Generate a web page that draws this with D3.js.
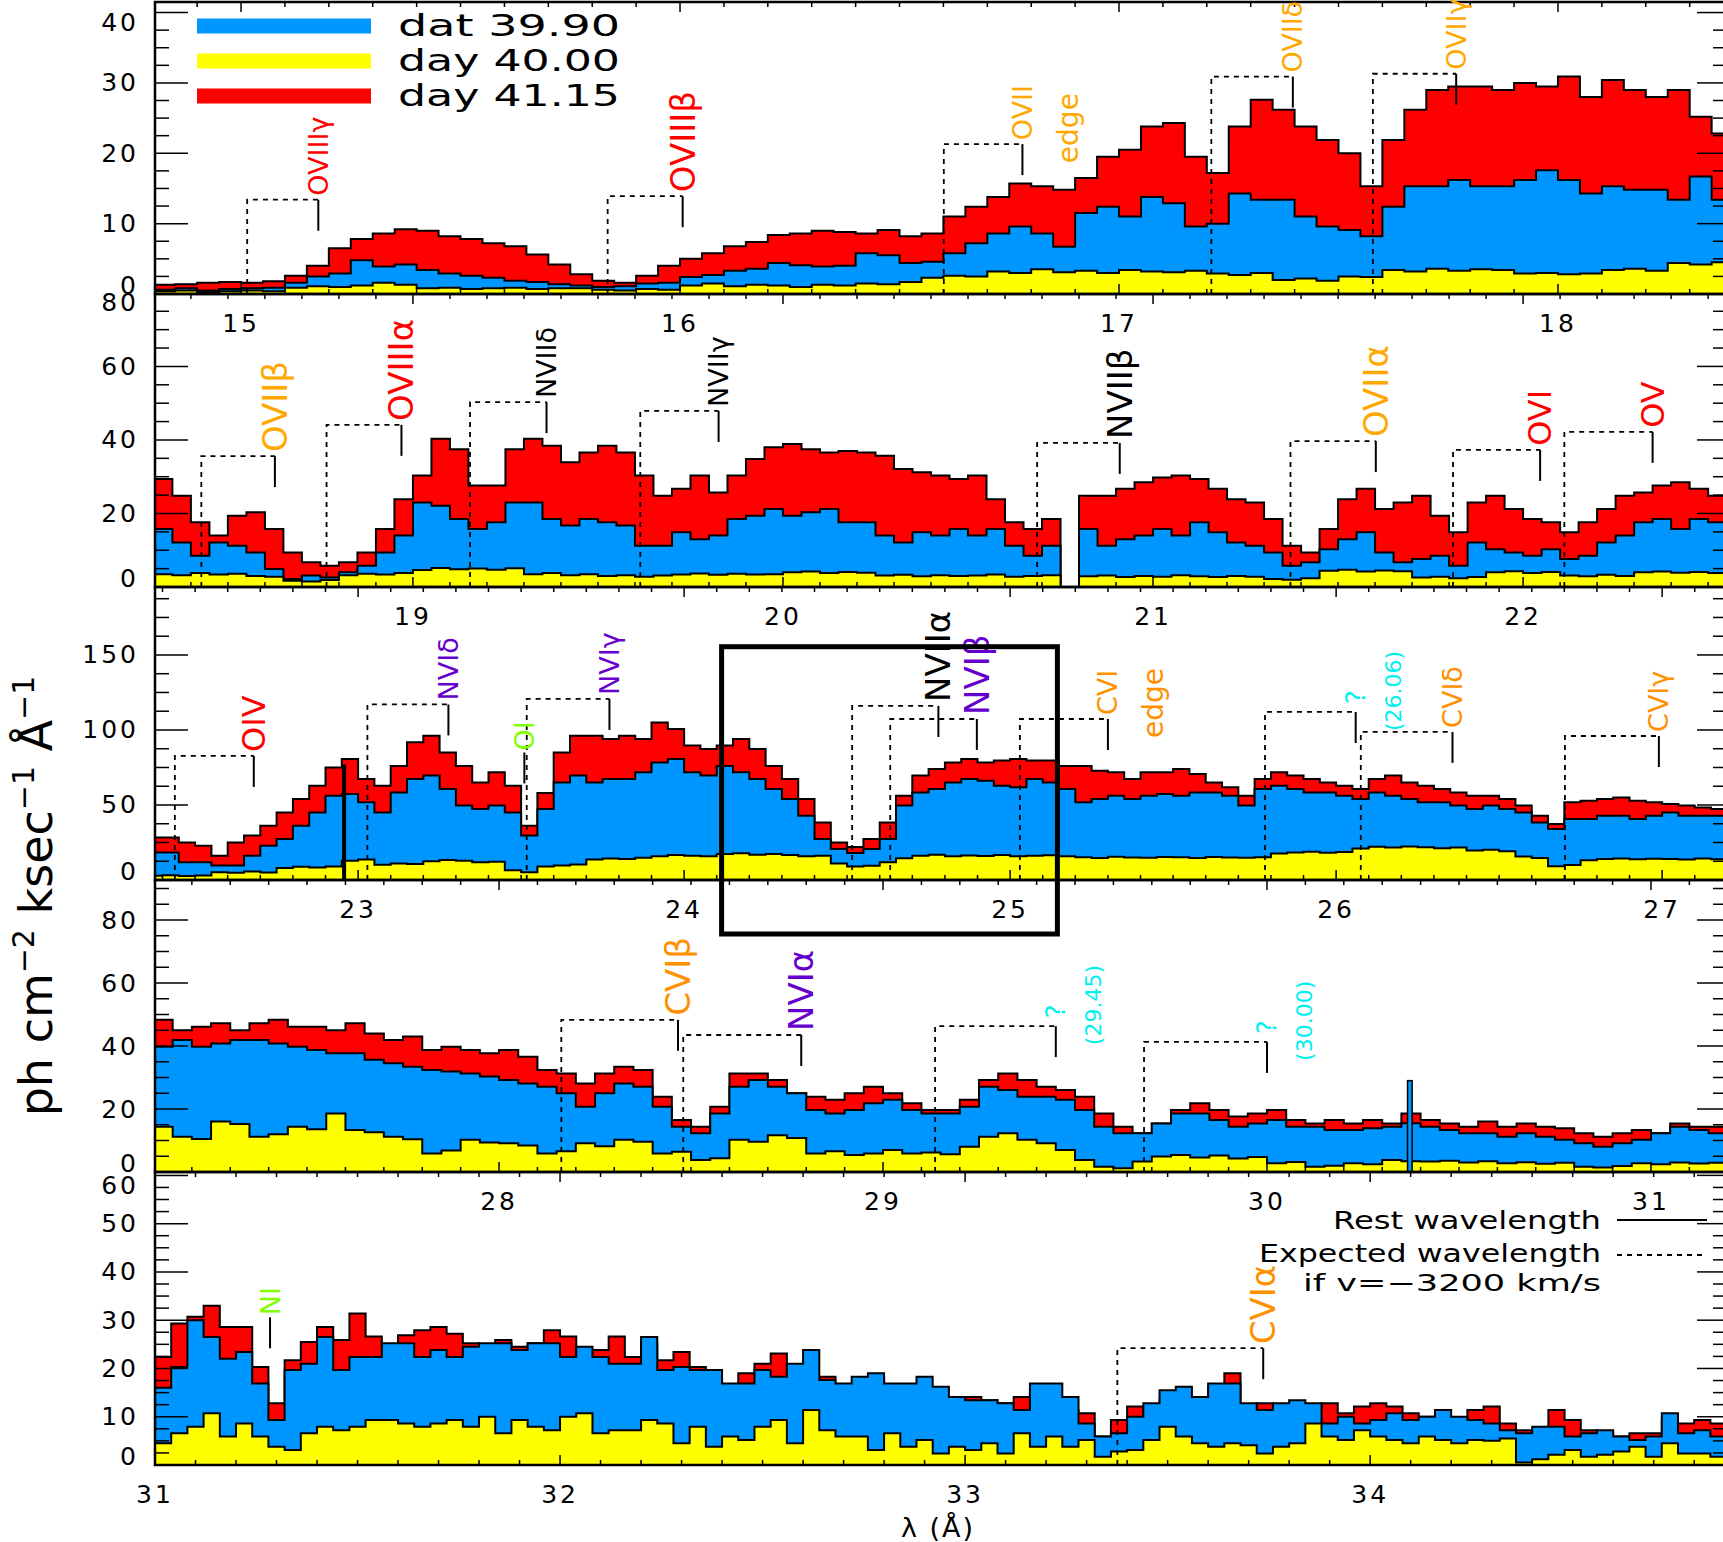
<!DOCTYPE html>
<html>
<head>
<meta charset="utf-8">
<script src="https://cdn.jsdelivr.net/npm/d3@7"></script>
<style>
  body { margin: 0; background: #fff; }
  svg { display: block; }
  text { font-family: "DejaVu Sans", sans-serif; }
</style>
</head>
<body>
<div id="chart"></div>
<script>
// ---- panel ranges (wavelength in A, flux in ph cm-2 ksec-1 A-1) ----
var panelXDomain = [[14.804, 18.385], [18.303, 22.551], [22.377, 27.199], [27.104, 31.198], [31.0, 34.881]];
var panelYMax = [41.5, 79.7, 195.3, 92.7, 60.7];
var binStart = [14.80, 18.30, 22.35, 27.10, 31.00];
var binStep = [0.05, 0.05, 0.05, 0.05, 0.04];
var xTickLabels = [[15, 16, 17, 18], [19, 20, 21, 22], [23, 24, 25, 26, 27], [28, 29, 30, 31], [31, 32, 33, 34]];
var yTickLabels = [[0, 10, 20, 30, 40], [0, 20, 40, 60, 80], [0, 50, 100, 150], [0, 20, 40, 60, 80], [0, 10, 20, 30, 40, 50, 60]];
var yMinorStep = [2.5, 5, 12.5, 5, 2.5];

var seriesNames = ["dat 39.90", "day 40.00", "day 41.15"];

// day 41.15 (red)
var red1 = [1.3,1.4,1.6,1.7,1.6,1.8,2.6,4.0,6.5,7.8, 8.6,9.2,9.0,8.2,7.8,7.2,6.8,5.6,4.2,2.8,
  1.9,1.6,2.6,4.0,5.0,5.8,6.8,7.4,8.4,8.6, 9.0,8.8,8.6,9.1,8.2,8.6,11.0,12.4,13.8,15.7,
  15.3,14.8,16.5,19.5,20.5,23.8,24.3,19.5,17.2,23.8, 27.6,26.2,23.8,21.9,20.0,15.3,21.9,26.2,29.0,29.5,
  29.5,29.0,30.0,29.5,30.9,28.0,30.4,29.0,28.0,29.0, 25.2,22.8];
var red2 = [29.4,24.8,17.6,14.0,19.4,20.3,15.8,9.4,6.7,5.8, 6.7,9.4,15.8,23.9,30.3,40.3,37.5,27.6,27.6,37.5,
  40.3,38.4,33.9,36.6,38.4,36.6,30.3,24.8,26.7,30.3, 25.7,30.3,34.8,38.0,38.9,37.5,36.6,37.0,36.6,35.7,
  32.1,31.2,30.3,29.4,30.3,23.9,17.6,15.8,18.5,null, 24.8,24.8,26.7,28.5,29.8,30.3,29.4,26.7,23.9,23.0,
  18.5,11.2,9.4,15.8,23.9,26.7,21.2,23.0,24.8,19.4, 14.9,23.0,24.8,21.2,18.5,17.6,14.9,17.6,21.2,24.8,
  25.7,27.6,28.5,26.7,24.8];
var red3 = [28.4,28.4,25.0,22.9,16.2,25.0,29.6,36.2,45.0,54.0, 62.9,75.0,80.7,67.3,62.9,76.0,91.8,96.2,85.0,76.0,
  65.0,71.8,62.9,36.2,58.0,85.0,96.2,96.2,94.0,96.2, 94.0,105.0,100.7,89.6,87.3,89.6,94.0,87.3,76.0,67.3,
  54.0,38.4,25.0,22.0,27.3,38.4,56.2,69.6,74.0,78.4, 80.7,78.4,79.6,80.7,79.6,79.6,76.0,76.0,72.9,71.8,
  67.3,71.8,71.8,74.0,70.7,65.0,61.8,56.2,67.3,71.8, 69.6,67.3,65.0,62.9,60.7,67.3,69.6,65.0,62.9,60.7,
  58.4,56.2,56.2,54.0,49.6,42.9,37.3,51.8,52.9,54.0, 55.0,52.9,51.8,50.7,49.6,48.4,47.3];
var red4 = [48.3,45.0,46.1,47.2,45.0,47.2,48.3,46.1,46.1,45.0, 47.2,44.0,41.9,43.0,38.7,39.8,38.7,37.7,38.7,36.6,
  32.4,31.3,28.1,31.3,33.4,32.4,23.9,16.5,14.4,20.7, 31.3,31.3,29.2,25.0,23.9,22.9,25.0,27.1,25.0,21.8,
  19.7,19.7,22.9,29.2,31.3,29.2,27.1,26.0,23.9,18.6, 14.4,12.3,15.4,19.7,21.8,19.7,17.6,18.6,19.7,16.5,
  15.4,16.5,15.4,16.5,15.4,18.6,16.5,15.4,14.4,16.0, 14.4,15.4,14.4,13.9,12.3,11.2,12.3,13.3,12.3,15.4,
  14.4,14.4];
var red5 = [22.4,29.3,30.7,33.0,28.6,28.6,20.3,12.8,21.7,25.5, 28.6,25.9,31.4,26.6,24.5,26.9,27.9,28.6,27.2,25.2,
  24.5,25.9,24.5,25.2,27.9,26.6,16.9,23.8,26.6,22.4, 25.2,21.7,23.4,20.3,16.9,13.4,19.0,21.0,23.1,18.3,
  14.1,18.3,16.2,
  16.9,18.3,14.1,16.2,15.5,12.8,13.4,14.1,13.4,12.8, 14.1,14.8,13.4,11.4,10.7,5.9,9.3,12.1,10.0,13.4,
  13.4,12.8,16.2,19.0,11.4,12.8,12.1,12.8,11.4,12.8, 10.7,12.1,12.8,12.1,10.7,10.0,9.3,8.6,11.4,12.1,
  8.6,7.2,5.9,11.4,9.3,7.2,6.6,5.9,6.6,6.6, 9.3,8.6,9.3,8.6];

// dat 39.90 (blue)
var blue1 = [0.6,0.8,0.5,0.7,0.8,0.9,1.6,2.5,2.9,4.8, 3.9,4.2,3.4,2.9,2.6,2.3,1.9,1.7,1.4,1.2,
  1.0,1.1,1.5,1.6,2.4,2.7,3.3,3.6,4.4,4.1, 3.9,4.0,5.8,5.5,4.4,4.6,5.8,7.2,8.6,9.6,
  8.6,6.7,11.5,12.4,11.0,13.8,12.9,9.6,10.0,14.3, 13.4,13.4,11.0,9.6,9.1,8.2,12.4,15.3,15.3,16.2,
  15.3,15.3,16.2,17.6,16.2,14.3,15.3,14.8,14.8,13.4, 16.7,13.4];
var blue2 = [15.8,12.1,8.5,12.1,11.2,9.4,4.9,2.2,3.1,2.6, 4.0,5.8,9.4,14.0,23.0,22.1,18.5,15.8,17.6,23.0,
  23.0,18.5,16.7,18.5,17.6,16.7,11.2,11.2,14.9,13.0, 14.0,18.5,19.4,21.2,19.4,20.3,21.2,17.6,17.6,14.0,
  12.1,14.9,14.0,15.8,14.0,15.8,11.2,8.5,11.2,null, 15.8,11.2,13.0,14.0,15.8,14.0,17.6,14.9,12.1,11.2,
  9.4,5.8,6.7,10.3,13.0,14.9,9.4,6.7,7.6,8.5, 5.8,12.1,10.3,9.4,8.5,10.3,7.6,8.5,12.1,14.0,
  17.6,18.5,15.8,18.5,17.6];
var blue3 = [18.4,18.4,11.8,11.8,9.6,9.6,16.2,22.9,27.3,36.2, 45.0,56.2,57.3,51.8,45.0,58.4,67.3,69.6,60.7,49.6,
  47.3,49.6,45.0,29.6,47.3,65.0,69.6,65.0,67.3,67.3, 71.8,78.4,80.7,71.8,69.6,76.0,71.8,67.3,60.7,54.0,
  42.9,27.3,20.7,18.0,20.7,27.3,49.6,58.4,60.7,65.0, 67.3,66.2,62.9,61.8,67.3,65.0,60.7,51.8,54.0,56.2,
  54.0,56.2,57.3,56.2,58.4,58.4,56.2,49.6,60.7,62.9, 60.7,58.4,58.4,56.2,54.0,58.4,56.2,54.0,51.8,51.8,
  49.6,47.3,49.6,47.3,45.0,38.4,34.0,40.7,40.7,42.9, 42.9,40.7,42.9,45.0,42.9,42.9,42.9];
var blue4 = [39.8,41.9,39.8,40.8,41.9,41.9,40.8,39.8,38.7,37.7, 37.7,35.6,34.5,33.4,32.4,31.9,31.3,30.3,29.2,28.1,
  27.1,25.0,20.7,25.0,28.1,27.1,20.7,14.4,12.3,18.6, 27.1,29.2,27.1,25.0,19.7,18.6,19.7,21.8,22.9,19.7,
  18.6,18.6,20.7,27.1,26.0,23.9,23.9,22.9,19.7,14.4, 12.3,12.3,15.4,18.6,18.6,16.5,14.4,15.4,16.5,14.4,
  14.4,13.3,13.3,13.9,14.4,15.5,14.4,13.3,12.3,12.3, 11.2,12.3,11.2,10.2,9.1,8.0,9.1,10.2,12.3,14.4,
  13.3,12.3];
var blue5 = [16.0,20.3,30.0,26.5,22.0,23.4,16.9,9.3,19.7,21.0, 26.5,19.7,22.4,22.4,25.2,25.2,22.4,23.8,22.4,24.5,
  25.2,25.2,23.8,25.2,25.2,22.4,24.5,22.4,21.0,21.0, 26.5,19.7,20.3,19.7,19.7,16.9,16.9,19.7,18.3,21.0,
  23.8,17.6,16.9,
  18.3,19.0,16.9,16.9,18.3,16.2,14.1,13.4,13.4,12.8, 11.4,16.9,16.9,14.1,8.6,5.9,6.6,10.0,12.8,15.5,
  16.2,14.1,16.9,16.9,12.8,11.4,12.8,13.4,12.8,8.6, 10.0,8.6,9.3,10.7,9.3,10.0,11.4,10.0,9.3,8.6,
  7.2,6.6,7.9,7.9,5.9,6.6,7.2,5.9,5.2,5.9, 10.7,6.6,7.2,5.9];

// day 40.00 (yellow)
var yellow1 = [0.4,0.5,0.3,0.4,0.5,0.4, 0.9,1.1,1.0,1.2, 1.6,1.3, 0.8,0.9,0.7,0.8,0.9,0.7,0.8,0.8,
  0.6,0.5,0.7,0.6, 1.2,1.5,1.1,1.3,1.2,1.0,1.3,1.2, 1.5,1.4,1.7, 2.3,2.6,2.5,
  3.2,3.0,3.5,3.1,3.3,3.0,3.4,3.2,3.1,3.3, 2.9,2.7,3.0, 2.0,2.2,1.9, 2.5,2.4,
  3.4,3.2,3.6,3.3,3.5,3.4, 2.9,3.0,2.8,2.9, 3.4,3.6,3.3, 4.4,4.2,4.5];
var yellow2 = [3.5,3.2,3.8,3.4,3.6, 3.0,2.8, 1.7,1.5,1.9, 3.2,3.6,3.4,3.8, 4.6,5.2,4.8,5.0,4.7,5.1,
  3.5,3.8,3.2,3.5, 3.0,3.2,2.8,3.1, 3.4,3.7,3.3,3.6,3.4,3.5, 4.0,4.2,3.8,4.1,3.9,
  3.1,3.3,2.9,3.2,3.0,3.1,3.4,2.8,3.0,3.2, null, 2.9,3.1,2.7,3.0,2.8,3.2,2.9,2.7,3.0,2.8,
  2.2,2.0,2.4, 4.4,4.7,4.2,4.5,4.3, 2.6,2.8,2.4,2.7, 4.0,4.3,3.8,4.1, 3.1,2.9,3.3,3.0,
  4.0,4.2,3.9,4.1,3.8];
var yellow3 = [2.9,3.2,2.6,3.0, 5.1,4.8,5.6,5.0, 8.0,8.8,8.4,9.0, 12.9,13.6, 10.2,11.0,10.7, 12.5,13.4,12.9,
  11.8,12.2, 6.5,5.1, 9.0,9.6,10.4, 13.6,14.4,14.0,14.8, 15.8,16.6,16.2,15.9, 17.3,17.8,16.9,17.3,
  16.6,15.8,16.2, 11.0,9.0,9.5,11.8, 14.5,16.2,16.8,15.9,16.4,16.0,16.6,15.8,16.2,16.5,15.9,
  15.1,14.6,15.5,15.0,14.8,15.4,15.1,14.7,15.3,15.0,14.9,15.2, 17.6,18.4,18.9,18.2,18.6,
  21.0,22.2,21.6,22.4,21.8,21.2,21.6, 19.6,20.2,19.1, 15.6,14.6, 9.2,10.0,
  13.2,14.0,14.4,13.8,14.2,14.0,13.6,14.3,13.9];
var yellow4 = [14.4, 11.2,10.5, 16.0,15.2, 11.2,12.0, 14.4,13.6, 18.6, 13.3,12.6, 11.2,10.4, 5.9,6.8,
  10.2,9.4, 9.1,8.4, 5.9,6.6, 9.1,8.2, 10.2,9.6, 5.9,6.4, 3.8,4.4, 10.2,9.6, 11.7,10.8, 5.9,6.6,5.4,
  5.9,7.0,5.9,6.2,5.6,8.0,11.2,12.3,10.2,9.1,7.0,3.8,1.7,1.2,3.3, 4.9,5.4,4.6,5.2,4.3,4.8,
  2.8,3.2,1.7,2.0,2.8,2.5,3.8,3.4, 3.3,3.6,3.0,3.4, 2.8,3.1,2.6,2.9, 1.7,1.4,1.9, 2.8,2.5,3.0,2.7,2.9];
var yellow5 = [4.5,6.6,7.9,10.7,5.9,8.6,5.9,3.8,3.1,6.6, 7.9,7.2,7.9,9.3,9.3,8.6,7.9,8.6,9.3,7.9,
  10.0,6.6,9.3,7.9,7.2,10.0,10.7,6.6,7.2,7.2, 9.3,8.6,4.5,7.9,3.8,5.9,5.2,7.9,9.3,4.5,
  11.4,7.2,5.9,
  5.9,3.1,6.6,3.8,5.2,2.4,3.8,3.1,4.5,2.4, 6.6,3.8,5.9,3.8,5.2,1.7,2.8,3.1,5.2,7.9,
  5.9,4.5,3.8,4.5,4.1,2.4,3.8,4.5,8.6,5.9, 5.2,7.2,5.9,5.2,4.5,5.9,5.2,
  4.5,5.2,5.0,5.5,0.5,1.2,2.1,3.1,1.7,2.1,2.8,3.8,1.7,4.5,2.4,2.4,1.7];

// single-pixel features
var spikePanel = [2, 3];
var spikeLambda = [22.957, 30.372];
var spikeTop = [77, 29];

// line identifications: rest wavelength, level of the marker, label
var lineRest  = [15.176, 16.006, 16.78, 17.396, 17.768, 18.627, 18.969, 19.361, 19.826, 20.910, 21.602, 22.046, 22.35,
  22.68, 23.277, 23.771, 24.78, 24.898, 25.30, 26.06, 26.357, 26.990, 28.466, 28.787, 29.45, 30.00, 33.736];
var linePanel = [0,0,0,0,0, 1,1,1,1,1,1,1,1, 2,2,2,2,2,2,2,2,2, 3,3,3,3, 4];
var lineLevel = [13.4, 13.9, 21.3, 30.9, 31.3, 35.6, 44.1, 50.3, 47.9, 39.2, 39.7, 37.3, 42.2,
  82.7, 117, 120.7, 116, 107.3, 107.3, 112, 98.7, 96, 48.3, 43.5, 46.3, 41.3, 24.2];
var lineIon   = ["OVIII","OVIII","OVII","OVII","OVII", "OVII","OVIII","NVII","NVII","NVII","OVII","OVI","OV",
  "OIV","NVI","NVI","NVII","NVI","CVI","?","CVI","CVI", "CVI","NVI","?","?", "CVI"];
var lineLabel = [["OVIIIγ"],["OVIIIβ"],["OVII","edge"],["OVIIδ"],["OVIIγ"],["OVIIβ"],["OVIIIα"],["NVIIδ"],["NVIIγ"],
  ["NVIIβ"],["OVIIα"],["OVI"],["OV"],["OIV"],["NVIδ"],["NVIγ"],["NVIIα"],["NVIβ"],["CVI","edge"],["?","(26.06)"],
  ["CVIδ"],["CVIγ"],["CVIβ"],["NVIα"],["?","(29.45)"],["?","(30.00)"],["CVIα"]];
var markRest = [23.51, 31.284];
var markPanel = [2, 4];
var markLevel = [85, 30.6];
var markIon = ["OI", "NI"];
var shiftVelocity = -3200; // km/s

// highlighted region (panel 3 coordinates)
var boxLambda = [24.115, 25.145];
var boxFlux = [-36, 155.5];

// ---- layout ----
var W = 1723, H = 1542;
var left = 155, right = 1727;
var panelEdges = [2, 294, 587, 880, 1172, 1465];
var fillColor = ["#0096ff", "#ffff00", "#ff0000"];
var ionColor = {OVIII: "#ff0000", OVII: "#ffa800", OVI: "#ff0000", OV: "#ff0000", OIV: "#ff0000",
  NVII: "#000000", NVI: "#6600cc", CVI: "#ff9000", "?": "#00f0f0", OI: "#80ff00", NI: "#80ff00"};

var reds = [red1, red2, red3, red4, red5];
var blues = [blue1, blue2, blue3, blue4, blue5];
var yellows = [yellow1, yellow2, yellow3, yellow4, yellow5];

var svg = d3.select("#chart").append("svg").attr("width", W).attr("height", H);

function stepPoints(vals, start, step) {
  var pts = [];
  vals.forEach(function(v, i) {
    var x0 = start + i * step, x1 = x0 + step;
    if (v == null) { pts.push({x: x0, v: null}); return; }
    if (i > 0 && vals[i - 1] == null) pts.push({x: x0, v: 0});
    pts.push({x: x0, v: v}, {x: x1, v: v});
    if (i < vals.length - 1 && vals[i + 1] == null) pts.push({x: x1, v: 0});
  });
  return pts;
}

function labelFont(t, n, k) {
  if (n > 1) return k === 0 ? (t === "?" ? 26 : 27) : (t === "edge" ? 28 : 22);
  if (/[αβ]/.test(t)) return 34;
  if (/[γδ]/.test(t)) return 27;
  return 32;
}

function drawLabel(g, lines, xr, yl, color) {
  lines.forEach(function(t, k) {
    var dx = k === 0 ? 0 : (t === "edge" ? 46 : 38);
    var y0 = k === 0 ? yl - (t === "?" ? 8 : 4) : yl + 19;
    g.append("text")
      .attr("transform", "translate(" + (xr + dx) + "," + y0 + ") rotate(-90)")
      .attr("dominant-baseline", "central")
      .attr("fill", color)
      .attr("font-size", labelFont(t, lines.length, k))
      .text(t);
  });
}

var xs = [], ys = [];
var vFactor = 1 + shiftVelocity / 299792.458;

panelXDomain.forEach(function(dom, i) {
  var top = panelEdges[i], bot = panelEdges[i + 1];
  var x = d3.scaleLinear().domain(dom).range([left, right]);
  var y = d3.scaleLinear().domain([0, panelYMax[i]]).range([bot, top]);
  xs.push(x); ys.push(y);

  svg.append("clipPath").attr("id", "clip" + i)
    .append("rect").attr("x", left).attr("y", top).attr("width", right - left).attr("height", bot - top);

  var g = svg.append("g").attr("clip-path", "url(#clip" + i + ")");
  var area = d3.area().defined(function(d) { return d.v != null; })
    .x(function(d) { return x(d.x); }).y0(y(0)).y1(function(d) { return y(d.v); });
  var line = d3.line().defined(function(d) { return d.v != null; })
    .x(function(d) { return x(d.x); }).y(function(d) { return y(d.v); });

  // red behind, then blue, then yellow in front
  [[reds[i], fillColor[2]], [blues[i], fillColor[0]], [yellows[i], fillColor[1]]].forEach(function(s) {
    var pts = stepPoints(s[0], binStart[i], binStep[i]);
    g.append("path").attr("d", area(pts)).attr("fill", s[1]);
    g.append("path").attr("d", line(pts)).attr("fill", "none").attr("stroke", "#000").attr("stroke-width", 2);
  });

  spikePanel.forEach(function(p, k) {
    if (p !== i) return;
    if (k === 0) {
      g.append("line").attr("x1", x(spikeLambda[k])).attr("x2", x(spikeLambda[k]))
        .attr("y1", y(0)).attr("y2", y(spikeTop[k])).attr("stroke", "#000").attr("stroke-width", 4);
    } else {
      g.append("rect").attr("x", x(spikeLambda[k] - 0.006)).attr("width", x(spikeLambda[k] + 0.006) - x(spikeLambda[k] - 0.006))
        .attr("y", y(spikeTop[k])).attr("height", y(0) - y(spikeTop[k]))
        .attr("fill", fillColor[0]).attr("stroke", "#000").attr("stroke-width", 1.5);
    }
  });

  // axes frame
  svg.append("rect").attr("x", left).attr("y", top).attr("width", right - left).attr("height", bot - top)
    .attr("fill", "none").attr("stroke", "#000").attr("stroke-width", 2.5);

  // x ticks (0.1 A minor, 1 A major) on bottom and top edges
  var ax = svg.append("g").attr("stroke", "#000").attr("stroke-width", 1.5);
  d3.range(Math.ceil(dom[0] * 10), Math.floor(dom[1] * 10) + 1).forEach(function(k) {
    var len = k % 10 === 0 ? 10 : 5, px = x(k / 10);
    ax.append("line").attr("x1", px).attr("x2", px).attr("y1", bot).attr("y2", bot - len);
    ax.append("line").attr("x1", px).attr("x2", px).attr("y1", top).attr("y2", top + len);
  });
  // y ticks on left and right
  d3.range(0, panelYMax[i] + 1e-6, yMinorStep[i]).forEach(function(v) {
    var major = yTickLabels[i].indexOf(v) >= 0, py = y(v);
    ax.append("line").attr("x1", left).attr("x2", left + (major ? 33 : 14)).attr("y1", py).attr("y2", py);
    ax.append("line").attr("x1", right).attr("x2", right - (major ? 30 : 14)).attr("y1", py).attr("y2", py);
  });

  // tick labels at the panel ends sit a little inside, as in the original plot
  var yl = yTickLabels[i];
  yl.forEach(function(v, k) {
    var nudge = k === 0 ? -9 : (k === yl.length - 1 && y(v) - top < 20 ? 10 : 0);
    svg.append("text").attr("x", 139).attr("y", y(v) + nudge).attr("text-anchor", "end")
      .attr("dominant-baseline", "central").attr("font-size", 25).attr("letter-spacing", 3).text(v);
  });
  xTickLabels[i].forEach(function(v) {
    svg.append("text").attr("x", x(v)).attr("y", bot + 29).attr("text-anchor", "middle")
      .attr("dominant-baseline", "central").attr("font-size", 25).attr("letter-spacing", 3).text(v);
  });
});

// line markers
var ann = svg.append("g");
lineRest.forEach(function(rest, k) {
  var i = linePanel[k], x = xs[i], y = ys[i];
  var xr = x(rest), xe = x(rest * vFactor), yl = y(lineLevel[k]);
  ann.append("path").attr("d", "M" + xe + "," + y(0) + "V" + yl + "H" + xr)
    .attr("fill", "none").attr("stroke", "#000").attr("stroke-width", 1.8).attr("stroke-dasharray", "5,5");
  ann.append("path").attr("d", "M" + xr + "," + yl + "V" + (yl + 31))
    .attr("stroke", "#000").attr("stroke-width", 2);
  drawLabel(ann, lineLabel[k], xr, yl, ionColor[lineIon[k]]);
});
markRest.forEach(function(rest, k) {
  var i = markPanel[k], xr = xs[i](rest), yl = ys[i](markLevel[k]);
  ann.append("path").attr("d", "M" + xr + "," + yl + "V" + (yl + 31)).attr("stroke", "#000").attr("stroke-width", 2);
  ann.append("text").attr("transform", "translate(" + xr + "," + (yl - 2) + ") rotate(-90)")
    .attr("dominant-baseline", "central").attr("fill", ionColor[markIon[k]]).attr("font-size", 27).text(markIon[k]);
});

// highlighted region box
svg.append("rect")
  .attr("x", xs[2](boxLambda[0])).attr("y", ys[2](boxFlux[1]))
  .attr("width", xs[2](boxLambda[1]) - xs[2](boxLambda[0]))
  .attr("height", ys[2](boxFlux[0]) - ys[2](boxFlux[1]))
  .attr("fill", "none").attr("stroke", "#000").attr("stroke-width", 5);

// series legend (top panel)
seriesNames.forEach(function(name, k) {
  var cy = 26 + k * 35;
  svg.append("rect").attr("x", 197).attr("y", cy - 7.5).attr("width", 174).attr("height", 15).attr("fill", fillColor[k]);
  svg.append("text").attr("x", 398).attr("y", cy + 10).attr("font-size", 31)
    .attr("textLength", 222).attr("lengthAdjust", "spacingAndGlyphs").text(name);
});

// marker legend (bottom panel)
var lg = svg.append("g");
lg.append("text").attr("x", 1601).attr("y", 1229).attr("text-anchor", "end").attr("font-size", 24)
  .attr("textLength", 268).attr("lengthAdjust", "spacingAndGlyphs").text("Rest wavelength");
lg.append("line").attr("x1", 1617).attr("x2", 1707).attr("y1", 1220).attr("y2", 1220).attr("stroke", "#000").attr("stroke-width", 2);
lg.append("text").attr("x", 1601).attr("y", 1262).attr("text-anchor", "end").attr("font-size", 24)
  .attr("textLength", 342).attr("lengthAdjust", "spacingAndGlyphs").text("Expected wavelength");
lg.append("line").attr("x1", 1617).attr("x2", 1707).attr("y1", 1255).attr("y2", 1255).attr("stroke", "#000")
  .attr("stroke-width", 1.8).attr("stroke-dasharray", "5,5");
lg.append("text").attr("x", 1601).attr("y", 1291).attr("text-anchor", "end").attr("font-size", 23)
  .attr("textLength", 298).attr("lengthAdjust", "spacingAndGlyphs").text("if  v=−3200 km/s");

// axis titles
svg.append("text").attr("x", 938).attr("y", 1527).attr("text-anchor", "middle").attr("dominant-baseline", "central")
  .attr("font-size", 27).attr("letter-spacing", 2).text("λ (Å)");

var yt = svg.append("text").attr("transform", "translate(52,896) rotate(-90)")
  .attr("text-anchor", "middle").attr("font-size", 46);
yt.append("tspan").text("ph cm");
yt.append("tspan").attr("dy", -18).attr("font-size", 30).text("−2");
yt.append("tspan").attr("dy", 18).text(" ksec");
yt.append("tspan").attr("dy", -18).attr("font-size", 30).text("−1");
yt.append("tspan").attr("dy", 18).text(" Å");
yt.append("tspan").attr("dy", -18).attr("font-size", 30).text("−1");
</script>
</body>
</html>
